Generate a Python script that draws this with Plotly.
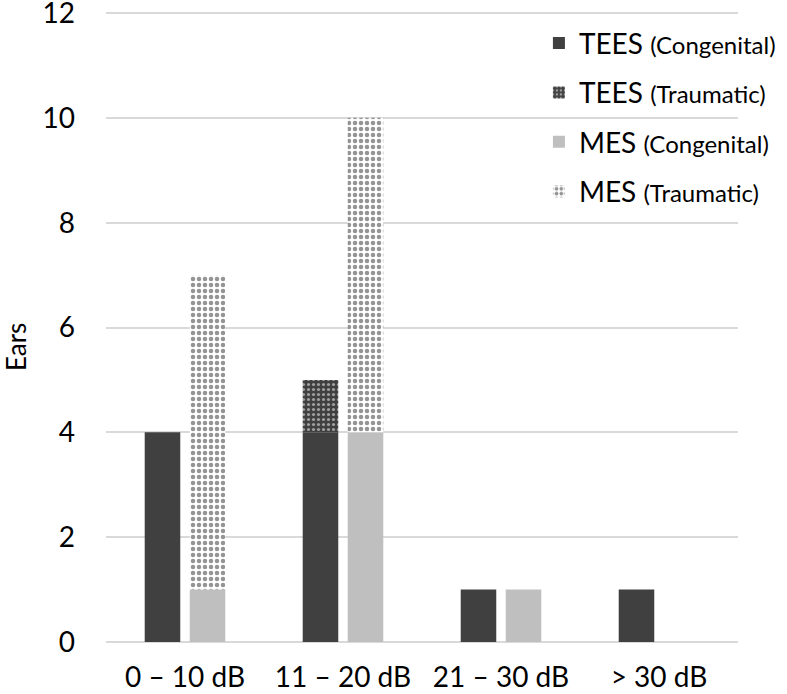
import plotly.graph_objects as go

categories = ["0 – 10 dB", "11 – 20 dB", "21 – 30 dB", "> 30 dB"]
tees_congenital = [4, 4, 1, 1]
tees_traumatic = [0, 1, 0, 0]
mes_congenital = [1, 4, 1, 0]
mes_traumatic = [6, 6, 0, 0]

DARK = "#404040"
LIGHT = "#bfbfbf"
W = 0.225
OFF_T = -0.255
OFF_M = 0.03
small = "<span style='font-size:24px'>{}</span>"

fig = go.Figure()
fig.add_trace(go.Bar(x=categories, y=tees_congenital, name="TEES " + small.format("(Congenital)"),
                     marker=dict(color=DARK, line=dict(width=0)), width=W, offset=OFF_T,
                     legendgroup="a"))
fig.add_trace(go.Bar(x=categories, y=tees_traumatic, base=tees_congenital,
                     name="TEES " + small.format("(Traumatic)"),
                     marker=dict(color=DARK, line=dict(width=0),
                                 pattern=dict(shape=".", bgcolor=DARK, fgcolor="white",
                                              size=5, solidity=0.3, fillmode="overlay")),
                     width=W, offset=OFF_T, legendgroup="b"))
fig.add_trace(go.Bar(x=categories, y=mes_congenital, name="MES " + small.format("(Congenital)"),
                     marker=dict(color=LIGHT, line=dict(width=0)), width=W, offset=OFF_M,
                     legendgroup="c"))
fig.add_trace(go.Bar(x=categories, y=mes_traumatic, base=mes_congenital,
                     name="MES " + small.format("(Traumatic)"),
                     marker=dict(color="white", line=dict(width=0),
                                 pattern=dict(shape=".", bgcolor="white", fgcolor="#2a2a2a",
                                              size=6, solidity=0.45, fillmode="overlay")),
                     width=W, offset=OFF_M, legendgroup="d"))

fig.update_layout(
    width=787, height=694,
    barmode="overlay",
    plot_bgcolor="white", paper_bgcolor="white",
    margin=dict(l=106, r=49, t=12, b=52, autoexpand=False),
    font=dict(family="Lato, 'Open Sans', sans-serif", size=28, color="black"),
    showlegend=True,
    legend=dict(x=0.685, y=0.99, xanchor="left", yanchor="top",
                bgcolor="rgba(255,255,255,0)", font=dict(size=28),
                tracegroupgap=10, traceorder="grouped"),
    xaxis=dict(range=[-0.5, 3.5], showgrid=False, showline=False, ticks="",
               tickfont=dict(size=28), ticklabelstandoff=16, automargin=False),
    yaxis=dict(range=[0, 12.02], dtick=2, showgrid=True, gridcolor="#d9d9d9", gridwidth=1.5,
               zeroline=True, zerolinecolor="#d9d9d9", zerolinewidth=1.5,
               showline=False, ticks="", ticklabelstandoff=30, automargin=False,
               ticklabeloverflow="allow", tickfont=dict(size=28)),
    annotations=[dict(text="Ears", textangle=-90, xref="paper", yref="paper",
                      x=-0.171, y=0.468, xanchor="left", yanchor="middle",
                      showarrow=False, font=dict(size=26))],
)

fig.write_html("out.html")
